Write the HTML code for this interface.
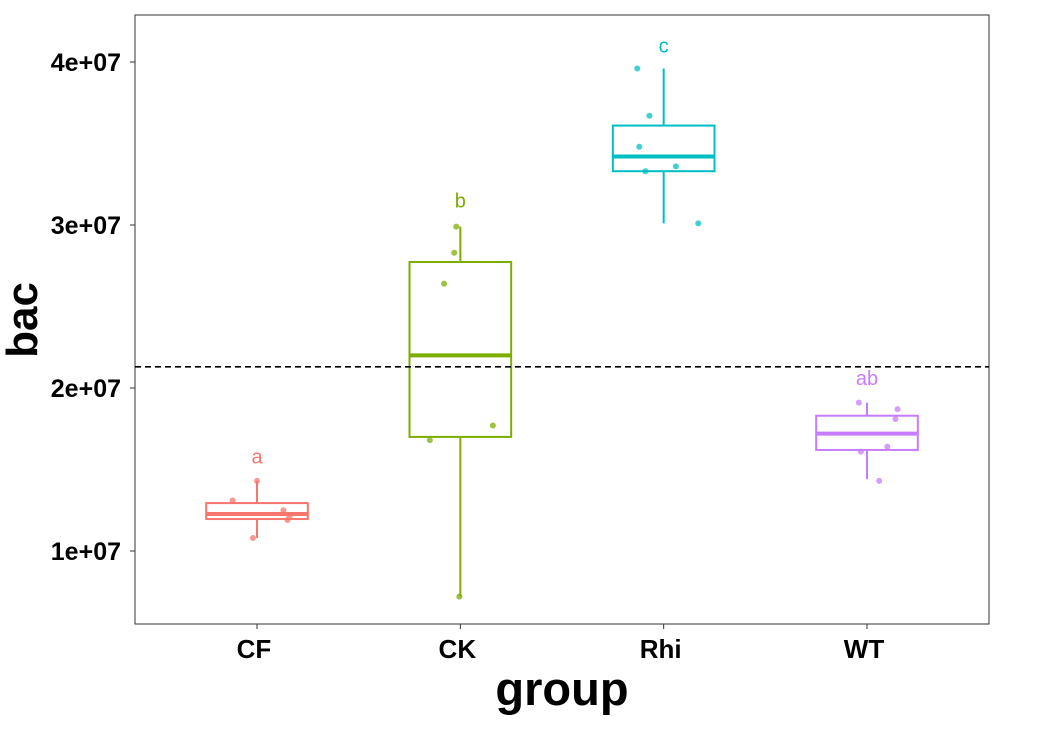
<!DOCTYPE html>
<html><head><meta charset="utf-8"><style>
body{margin:0;background:#fff;width:1045px;height:730px;overflow:hidden}
text{font-family:"Liberation Sans",Arial,sans-serif}
</style></head><body>
<svg id="chart" width="1045" height="730" xmlns="http://www.w3.org/2000/svg">
<rect x="0" y="0" width="1045" height="730" fill="#fff"/>
<g id="plot"></g>
</svg>
<script>
const categories=["CF","CK","Rhi","WT"];
const colors=["#F8766D","#7CAE00","#00BFC4","#C77CFF"];
const q1=[1.196e7,1.70e7,3.33e7,1.62e7];
const med=[1.227e7,2.20e7,3.42e7,1.72e7];
const q3=[1.294e7,2.773e7,3.61e7,1.83e7];
const whiskLo=[1.08e7,0.72e7,3.01e7,1.44e7];
const whiskHi=[1.43e7,2.99e7,3.96e7,1.91e7];
const pointsCF=[1.31e7,1.43e7,1.08e7,1.25e7,1.19e7,1.21e7];
const pointsCK=[2.99e7,2.83e7,2.64e7,1.68e7,1.77e7,0.72e7];
const pointsRhi=[3.96e7,3.67e7,3.48e7,3.33e7,3.36e7,3.01e7];
const pointsWT=[1.91e7,1.87e7,1.81e7,1.61e7,1.64e7,1.43e7];
const jitterCF=[-0.12,0,-0.02,0.13,0.15,0.16];
const jitterCK=[-0.02,-0.03,-0.08,-0.15,0.16,-0.005];
const jitterRhi=[-0.13,-0.07,-0.12,-0.09,0.06,0.17];
const jitterWT=[-0.04,0.15,0.14,-0.03,0.10,0.06];
const sigLabels=["a","b","c","ab"];
const sigPos=[1.58e7,3.15e7,4.1e7,2.06e7];
const refLine=2.13e7;
const yTicks=[1e7,2e7,3e7,4e7];
const yTickLabels=["1e+07","2e+07","3e+07","4e+07"];

const L=135,R=989,T=15,B=624;
const band=(R-L)/4.2;
const x=i=>L+(0.6+i)*band;
const xj=(i,j)=>x(i)+j*band;
const y=v=>551-(v-1e7)/1e7*163;
const NS="http://www.w3.org/2000/svg";
const g=document.getElementById("plot");
function el(tag,attrs,parent){const e=document.createElementNS(NS,tag);for(const k in attrs)e.setAttribute(k,attrs[k]);(parent||g).appendChild(e);return e;}

const frame=el("rect",{x:L,y:T,width:R-L,height:B-T,fill:"none",stroke:"#333","stroke-width":1});



yTicks.forEach((v,i)=>{
  const tk=el("line",{x1:L-5,x2:L,y1:y(v),y2:y(v),stroke:"#333"});
  
  
  const t=el("text",{x:L-14,y:y(v)+9,"text-anchor":"end","font-size":"25","font-weight":"bold",fill:"#000"});
  t.textContent=yTickLabels[i];
  
  
});

const allPts=[pointsCF,pointsCK,pointsRhi,pointsWT];
const allJit=[jitterCF,jitterCK,jitterRhi,jitterWT];
categories.forEach((c,i)=>{
  const col=colors[i],cx=x(i),hw=band*0.25;
  const grp=el("g",{});
  
  
  el("line",{x1:cx,x2:cx,y1:y(q3[i]),y2:y(whiskHi[i]),stroke:col,"stroke-width":2},grp);
  el("line",{x1:cx,x2:cx,y1:y(q1[i]),y2:y(whiskLo[i]),stroke:col,"stroke-width":2},grp);
  el("rect",{x:cx-hw,y:y(q3[i]),width:2*hw,height:y(q1[i])-y(q3[i]),fill:"none",stroke:col,"stroke-width":2},grp);
  el("line",{x1:cx-hw,x2:cx+hw,y1:y(med[i]),y2:y(med[i]),stroke:col,"stroke-width":4},grp);
  allPts[i].forEach((v,k)=>{
    const p=el("circle",{cx:xj(i,allJit[i][k]),cy:y(v),r:3,fill:col,"fill-opacity":0.75},grp);
    
    
  });
  const s=el("text",{x:cx,y:y(sigPos[i])+7,"text-anchor":"middle","font-size":"20",fill:col});
  s.textContent=sigLabels[i];
  
  
  const tk=el("line",{x1:cx,x2:cx,y1:B,y2:B+5,stroke:"#333"});
  
  
  const t=el("text",{x:cx-3,y:B+34,"text-anchor":"middle","font-size":"26","font-weight":"bold",fill:"#000"});
  t.textContent=c;
  
  
});

const hl=el("line",{x1:L,x2:R,y1:y(refLine),y2:y(refLine),stroke:"#000","stroke-width":1.6,"stroke-dasharray":"6,4"});



const xt=el("text",{x:(L+R)/2,y:705,"text-anchor":"middle","font-size":"47","font-weight":"bold",fill:"#000"});
xt.textContent="group";


const yt=el("text",{x:0,y:0,transform:"translate(37,320) rotate(-90)","text-anchor":"middle","font-size":"44","font-weight":"bold",fill:"#000"});
yt.textContent="bac";


</script>
</body></html>
